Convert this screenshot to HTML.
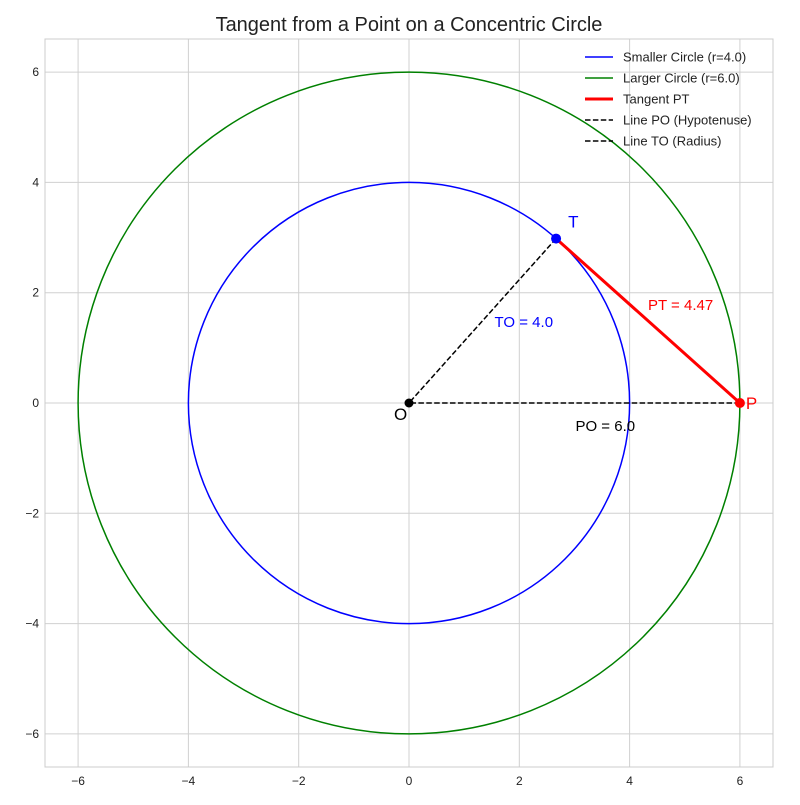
<!DOCTYPE html>
<html><head><meta charset="utf-8"><style>
body{margin:0;background:#fff;font-family:"Liberation Sans",sans-serif}
svg text{font-family:"Liberation Sans",sans-serif}
</style></head><body>
<svg id="c" width="800" height="800" xmlns="http://www.w3.org/2000/svg">
<rect width="800" height="800" fill="#fff"/>
<text x="409" y="31" font-size="20" text-anchor="middle" fill="#222">Tangent from a Point on a Concentric Circle</text>
</svg>
<script>
const ticks=[-6,-4,-2,0,2,4,6];
const radii=[4.0,6.0];
const pointP=[6,0];
const pointO=[0,0];
const legendLabels=["Smaller Circle (r=4.0)","Larger Circle (r=6.0)","Tangent PT","Line PO (Hypotenuse)","Line TO (Radius)"];
const L=45,R=773,T=39,B=767,xmin=-6.6,xmax=6.6;
const sx=v=>L+(v-xmin)/(xmax-xmin)*(R-L);
const sy=v=>B-(v-xmin)/(xmax-xmin)*(B-T);
const svg=document.getElementById('c');
const NS='http://www.w3.org/2000/svg';
function el(t,a,p){const e=document.createElementNS(NS,t);for(const k in a)e.setAttribute(k,a[k]);(p||svg).appendChild(e);return e;}
const grid=el('g',{});


ticks.forEach(t=>{
 el('line',{x1:sx(t),x2:sx(t),y1:T,y2:B,stroke:'#d0d0d0','stroke-width':1},grid);
 el('line',{x1:L,x2:R,y1:sy(t),y2:sy(t),stroke:'#d0d0d0','stroke-width':1},grid);
 const xl=el('text',{x:sx(t),y:B+18,'font-size':12,'text-anchor':'middle',fill:'#222'});xl.textContent=t<0?'−'+(-t):t;
 
 
 const yl=el('text',{x:L-6,y:sy(t)+4,'font-size':12,'text-anchor':'end',fill:'#222'});yl.textContent=t<0?'−'+(-t):t;
 
 
});
const frame=el('rect',{x:L,y:T,width:R-L,height:B-T,fill:'none',stroke:'#ccc'});


const r1=radii[0],r2=radii[1],ppx=sx(1)-sx(0);
const c1=el('circle',{cx:sx(0),cy:sy(0),r:r1*ppx,fill:'none',stroke:'blue','stroke-width':1.5});


const c2=el('circle',{cx:sx(0),cy:sy(0),r:r2*ppx,fill:'none',stroke:'green','stroke-width':1.5});


const d=pointP[0];
const tx=r1*r1/d,ty=Math.sqrt(r1*r1-tx*tx);
const po=el('line',{x1:sx(pointP[0]),y1:sy(pointP[1]),x2:sx(pointO[0]),y2:sy(pointO[1]),stroke:'#000','stroke-width':1.5,'stroke-dasharray':'5.5,2.4'});


const to=el('line',{x1:sx(tx),y1:sy(ty),x2:sx(0),y2:sy(0),stroke:'#000','stroke-width':1.5,'stroke-dasharray':'5.5,2.4'});


const pt=el('line',{x1:sx(pointP[0]),y1:sy(pointP[1]),x2:sx(tx),y2:sy(ty),stroke:'red','stroke-width':3});


const pO=el('circle',{cx:sx(0),cy:sy(0),r:4.5,fill:'#000'});


const pT=el('circle',{cx:sx(tx),cy:sy(ty),r:5,fill:'blue'});


const pP=el('circle',{cx:sx(pointP[0]),cy:sy(pointP[1]),r:5,fill:'red'});


function lab(x,y,s,c,txt,name,anchor){const e=el('text',{x:x,y:y,'font-size':s,fill:c,'text-anchor':anchor||'start'});e.textContent=txt;
 
 }
lab(sx(0)-15,sy(0)+17,17,'#000','O','label-o');
lab(sx(tx)+12,sy(ty)-11,17,'blue','T','label-t');
lab(sx(pointP[0])+6,sy(0)+6,17,'red','P','label-p');
lab(sx(tx/2)+12,sy(ty/2)+6,15,'blue','TO = '+r1.toFixed(1),'label-to');
lab(sx(d/2)+1,sy(0)+28,15,'#000','PO = '+d.toFixed(1),'label-po');
lab(sx((tx+d)/2),sy(ty/2)-11,15,'red','PT = '+Math.sqrt(d*d-r1*r1).toFixed(2),'label-pt');
const lcol=['blue','green','red','#000','#000'];
legendLabels.forEach((s,i)=>{
 const y=57+i*21;
 const g=el('g',{});
 
 
 el('line',{x1:585,x2:613,y1:y,y2:y,stroke:lcol[i],'stroke-width':i==2?3:1.5,'stroke-dasharray':i>2?'5.5,2.4':'none'},g);
 const t=el('text',{x:623,y:y+4.5,'font-size':13,fill:'#222'},g);t.textContent=s;
});
</script>
</body></html>
